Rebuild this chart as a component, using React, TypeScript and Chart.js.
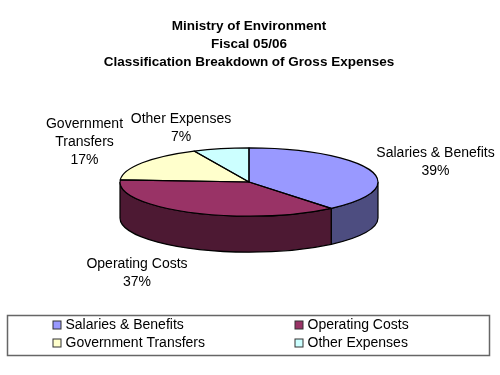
import React, { useEffect, useRef } from "react";
import { Chart, registerables } from "chart.js";

Chart.register(...registerables);

const categories = ["Salaries & Benefits", "Operating Costs", "Government Transfers", "Other Expenses"];
const values = [39, 37, 17, 7];
const topColors = ["#9999FF", "#993366", "#FFFFCC", "#CCFFFF"];
const sideColors = ["#4D4D80", "#4D1933", "#808066", "#668080"];
const titleLines = ["Ministry of Environment", "Fiscal 05/06", "Classification Breakdown of Gross Expenses"];
const labelLines = [["Salaries & Benefits"], ["Operating Costs"], ["Government", "Transfers"], ["Other Expenses"]];

const FONT = "'Liberation Sans', Arial, sans-serif";
const TILT = 0.265;
const DEPTH = 36;
const labelAnchors = [
  { x: 435.5, y: 153 },
  { x: 137, y: 264 },
  { x: 84.5, y: 124.5 },
  { x: 181, y: 119 },
];
const legendBox = { x: 7.5, y: 315.5, w: 482, h: 40 };
const legendCols = [53, 295];
const legendRows = [325, 343];

const pie3d = {
  id: "pie3d",
  beforeDatasetsDraw(chart: any) {
    const ctx = chart.ctx;
    const arcs = chart.getDatasetMeta(0).data;
    ctx.save();
    ctx.lineWidth = 1.2;
    ctx.strokeStyle = "#000";
    arcs.forEach((a: any, i: number) => {
      const from = Math.max(a.startAngle, 0);
      const to = Math.min(a.endAngle, Math.PI);
      if (to <= from) return;
      const rx = a.outerRadius;
      const ry = rx * TILT;
      ctx.beginPath();
      ctx.ellipse(a.x, a.y, rx, ry, 0, from, to);
      ctx.ellipse(a.x, a.y + DEPTH, rx, ry, 0, to, from, true);
      ctx.closePath();
      ctx.fillStyle = sideColors[i];
      ctx.fill();
      ctx.stroke();
    });
    ctx.restore();
    const c = arcs[0];
    ctx.save();
    ctx.translate(c.x, c.y);
    ctx.scale(1, TILT);
    ctx.translate(-c.x, -c.y);
  },
  afterDatasetsDraw(chart: any) {
    const ctx = chart.ctx;
    ctx.restore();
    const arcs = chart.getDatasetMeta(0).data;
    ctx.save();
    ctx.lineWidth = 1.2;
    ctx.strokeStyle = "#000";
    ctx.lineJoin = "round";
    arcs.forEach((a: any) => {
      const rx = a.outerRadius;
      ctx.beginPath();
      ctx.moveTo(a.x, a.y);
      ctx.ellipse(a.x, a.y, rx, rx * TILT, 0, a.startAngle, a.endAngle);
      ctx.closePath();
      ctx.stroke();
    });
    ctx.restore();
  },
  afterDraw(chart: any) {
    const ctx = chart.ctx;
    ctx.save();
    ctx.fillStyle = "#000";
    ctx.font = `14px ${FONT}`;
    ctx.textAlign = "center";
    ctx.textBaseline = "middle";
    labelLines.forEach((lines, i) => {
      const all = [...lines, `${values[i]}%`];
      all.forEach((t, k) => ctx.fillText(t, labelAnchors[i].x, labelAnchors[i].y + k * 18));
    });

    ctx.strokeStyle = "#666";
    ctx.lineWidth = 1.5;
    ctx.strokeRect(legendBox.x, legendBox.y, legendBox.w, legendBox.h);
    ctx.textAlign = "left";
    ctx.font = `14px ${FONT}`;
    categories.forEach((name, i) => {
      const x = legendCols[i % 2];
      const y = legendRows[Math.floor(i / 2)];
      ctx.fillStyle = topColors[i];
      ctx.fillRect(x, y - 4, 8, 8);
      ctx.strokeStyle = "#333";
      ctx.lineWidth = 1;
      ctx.strokeRect(x, y - 4, 8, 8);
      ctx.fillStyle = "#000";
      ctx.fillText(name, x + 12.5, y);
    });
    ctx.restore();
  },
};

export default function App() {
  const ref = useRef<HTMLCanvasElement>(null);
  useEffect(() => {
    const chart = new Chart(ref.current as HTMLCanvasElement, {
      type: "pie",
      data: {
        labels: categories,
        datasets: [
          {
            data: values,
            backgroundColor: topColors,
            borderWidth: 0,
            clip: false,
          } as any,
        ],
      },
      options: {
        responsive: false,
        animation: false,
        radius: 129,
        layout: { padding: { left: 0, right: 2, top: 0, bottom: 82 } },
        plugins: {
          legend: { display: false },
          tooltip: { enabled: false },
          title: {
            display: true,
            text: titleLines,
            color: "#000",
            font: { family: FONT, size: 13.5, weight: "bold", lineHeight: 1.333 },
            padding: { top: 17, bottom: 0 },
          },
        },
      } as any,
      plugins: [pie3d],
    });
    return () => chart.destroy();
  }, []);
  return (
    <div style={{ position: "absolute", left: 0, top: 0, width: 500, height: 375 }}>
      <canvas ref={ref} width={500} height={375} style={{ display: "block", background: "#fff" }} />
    </div>
  );
}
